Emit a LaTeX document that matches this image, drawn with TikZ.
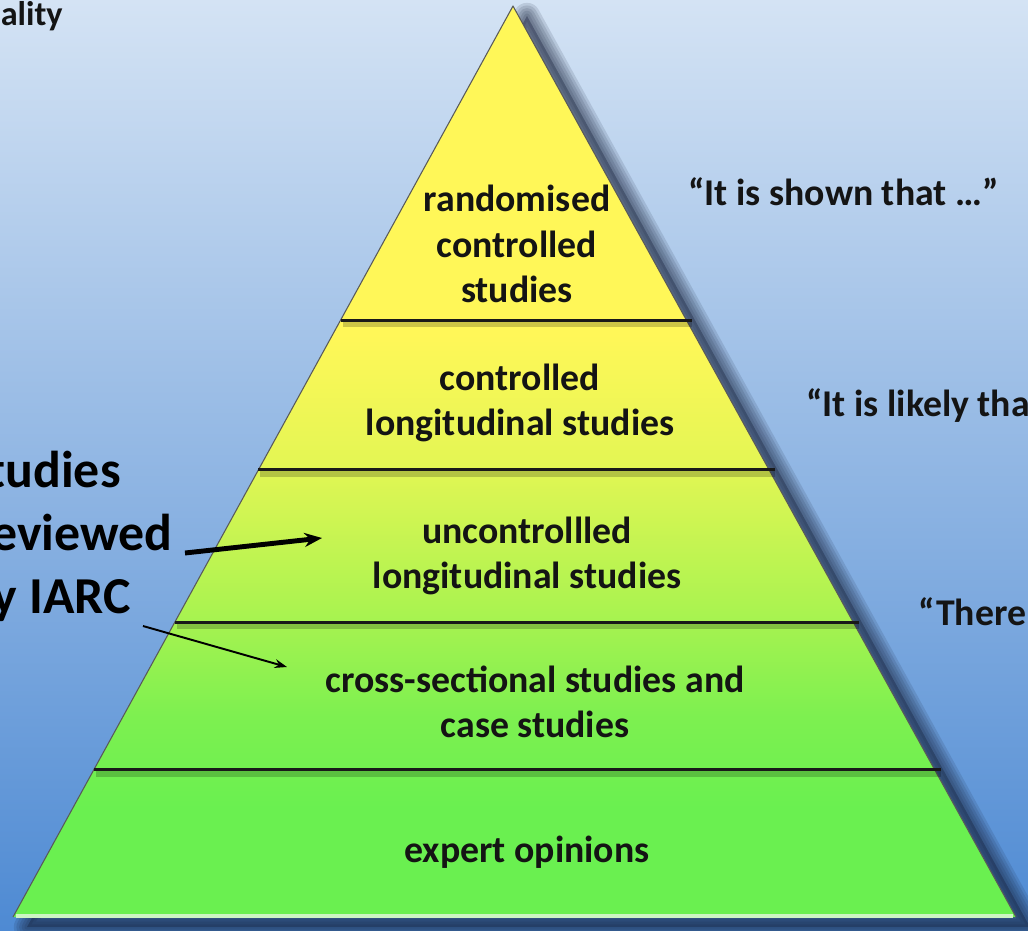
\documentclass[tikz,border=0pt]{standalone}
\usepackage{fontspec}
\setmainfont{Carlito}
\usetikzlibrary{calc,arrows.meta}

\definecolor{bgtop}{RGB}{212,227,244}
\definecolor{bgmid}{RGB}{165,197,236}
\definecolor{bgbot}{RGB}{78,138,211}
\definecolor{pyellow}{RGB}{255,247,88}
\definecolor{pmidA}{RGB}{228,246,84}
\definecolor{pmidB}{RGB}{172,243,80}
\definecolor{pmidC}{RGB}{125,240,80}
\definecolor{pgreen}{RGB}{106,240,80}
\definecolor{shadowink}{RGB}{20,30,55}
\definecolor{inktext}{RGB}{20,20,20}
\definecolor{baseglow}{RGB}{205,245,195}

% yellow on top, green at the base
\pgfdeclareverticalshading{pyramidfill}{100bp}{color(0bp)=(pgreen); color(31bp)=(pgreen); color(36bp)=(pmidC); color(42bp)=(pmidB); color(50bp)=(pmidA); color(57bp)=(pyellow); color(100bp)=(pyellow)}

\tikzset{
  level/.style={align=center, text=inktext, font=\bfseries\fontsize{21.5}{26}\selectfont},
  claim/.style={anchor=west, inner sep=0pt, text=inktext, font=\bfseries\fontsize{21.5}{26}\selectfont},
  iarc/.style={anchor=base east, inner sep=0pt, text=black, font=\bfseries\fontsize{29.5}{34}\selectfont},
}

\begin{document}
\begin{tikzpicture}[x=0.02cm, y=-0.02cm]
\useasboundingbox (0,0) rectangle (1028,930);
\clip (0,0) rectangle (1028,930);
\shade[top color=bgtop, middle color=bgmid, bottom color=bgbot] (0,0) rectangle (1028,930);

\coordinate (apex) at (513,6);
\coordinate (bl) at (13,917);
\coordinate (br) at (1016,917);

% soft shadow
\fill[shadowink, opacity=0.35] ($(apex)+(14,10)$) -- ($(bl)+(14,10)$) -- ($(br)+(14,10)$) -- cycle;
\foreach \w in {15,12,9,6,3}
  \draw[shadowink, draw opacity=0.13, line width=\w pt, line join=round]
    ($(apex)+(14,10)$) -- ($(bl)+(14,10)$) -- ($(br)+(14,10)$) -- cycle;

\shade[shading=pyramidfill] (apex) -- (bl) -- (br) -- cycle;
\draw[black!65, line width=0.6pt, line join=round] (bl) -- (apex) -- (br);
\draw[baseglow, line width=1.8pt] ($(bl)+(3,-1)$) -- ($(br)+(-3,-1)$);

% band borders
\foreach \t in {0.3447,0.5093,0.6762,0.8386} {
  \draw[black, opacity=0.2, line width=3pt] ($(apex)!\t!(bl)+(2,4)$) -- ($(apex)!\t!(br)+(6,4)$);
  \draw[black!90, line width=1.7pt] ($(apex)!\t!(bl)$) -- ($(apex)!\t!(br)+(6,0)$);
}

\node[level] (rct) at (517,244) {randomised\\controlled\\studies};
\node[level] (clong) at (520,403) {controlled\\longitudinal studies};
\node[level] (ulong) at (527,556) {uncontrollled\\longitudinal studies};
\node[level] (cross) at (535,702) {cross-sectional studies and\\case studies};
\node[level] (expert) at (527,852) {expert opinions};

\node[claim] (shown) at (688,192) {“It is shown that …”};
\node[claim] (likely) at (806,406) {“It is likely tha};
\node[claim] (there) at (918,612) {“There};

\node[anchor=base east, inner sep=0pt, text=inktext, font=\bfseries\fontsize{19.5}{23}\selectfont] (qual) at (63,25) {ality};
\node[iarc] (stud) at (121,487) {tudies};
\node[iarc] (revd) at (173,550) {eviewed};
\node[iarc] (byia) at (131,613) {y IARC};

\coordinate (toulong) at (322,538);
\coordinate (tocross) at (287,667);
\draw[-{Stealth[length=10pt,width=8pt]}, line width=2.8pt] ($(revd.base east)+(12,3)$) -- (toulong);
\draw[-{Stealth[length=7pt,width=5pt]}, line width=1.1pt] ($(byia.base east)+(12,13)$) -- (tocross);
\end{tikzpicture}
\end{document}
